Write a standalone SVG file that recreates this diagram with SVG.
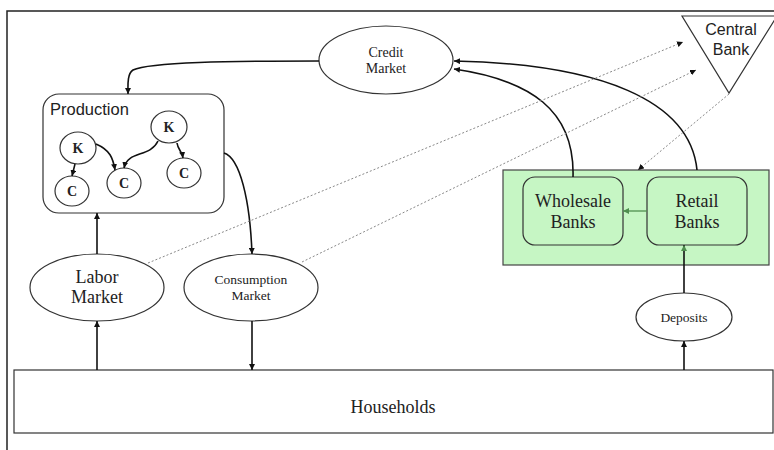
<svg xmlns="http://www.w3.org/2000/svg" width="774" height="450" viewBox="0 0 774 450">
<defs>
<marker id="ah" viewBox="0 0 10 10" refX="10" refY="5" markerWidth="6" markerHeight="6" markerUnits="userSpaceOnUse" orient="auto"><path d="M0,0 L10,5 L0,10 z" fill="#111"/></marker>
<marker id="ahg" viewBox="0 0 10 10" refX="10" refY="5" markerWidth="6" markerHeight="6" markerUnits="userSpaceOnUse" orient="auto"><path d="M0,0 L10,5 L0,10 z" fill="#4f8f4f"/></marker>
<style>
.n{fill:#fff;stroke:#333;stroke-width:1.2}
.s{font-family:"Liberation Serif","Times New Roman",serif;fill:#222;text-anchor:middle}
.a{font-family:"Liberation Sans",Arial,sans-serif;fill:#222}
.c{fill:none;stroke:#111;stroke-width:1.6}
.d{fill:none;stroke:#888;stroke-width:1;stroke-dasharray:2,2}
.kc{font-size:14px;font-weight:bold}
</style>
</defs>
<rect width="774" height="450" fill="#fff"/>
<path d="M7,450 V11 H774" fill="none" stroke="#222" stroke-width="1.5"/>

<g id="production">
<rect x="43" y="94" width="181" height="119" rx="16" class="n"/>
<text x="50" y="115" class="a" font-size="16.5">Production</text>
</g>
<g id="k1"><ellipse cx="78" cy="148" rx="18" ry="16" class="n"/><text x="78" y="153" class="s kc">K</text></g>
<g id="k2"><ellipse cx="169" cy="127" rx="18" ry="16" class="n"/><text x="169" y="132" class="s kc">K</text></g>
<g id="c1"><ellipse cx="72" cy="191" rx="17" ry="15" class="n"/><text x="72" y="196" class="s kc">C</text></g>
<g id="c2"><ellipse cx="124" cy="183" rx="17" ry="15" class="n"/><text x="124" y="188" class="s kc">C</text></g>
<g id="c3"><ellipse cx="184" cy="173" rx="17" ry="15" class="n"/><text x="184" y="178" class="s kc">C</text></g>

<g id="credit-market"><ellipse cx="386" cy="60" rx="67" ry="34" class="n"/>
<text x="386" y="57" class="s" font-size="14">Credit</text><text x="386" y="73" class="s" font-size="14">Market</text></g>

<g id="central-bank"><path d="M682,16 L777,16 L729,93 Z" class="n"/>
<text x="731" y="35" class="a" font-size="16" text-anchor="middle">Central</text>
<text x="731" y="55" class="a" font-size="16" text-anchor="middle">Bank</text></g>

<g id="banks"><rect x="503" y="170" width="266" height="95" fill="#c6f6c4" stroke="#444" stroke-width="1.2"/></g>
<g id="wholesale-banks"><rect x="523" y="177" width="100" height="68" rx="12" fill="#c6f6c4" stroke="#333" stroke-width="1.2"/>
<text x="573" y="207" class="s" font-size="18">Wholesale</text><text x="573" y="228" class="s" font-size="18">Banks</text></g>
<g id="retail-banks"><rect x="647" y="177" width="100" height="68" rx="12" fill="#c6f6c4" stroke="#333" stroke-width="1.2"/>
<text x="697" y="207" class="s" font-size="18">Retail</text><text x="697" y="228" class="s" font-size="18">Banks</text></g>

<g id="labor-market"><ellipse cx="97" cy="287.5" rx="67" ry="33.5" class="n"/>
<text x="97" y="283" class="s" font-size="18">Labor</text><text x="97" y="303" class="s" font-size="18">Market</text></g>
<g id="consumption-market"><ellipse cx="251" cy="287.5" rx="67" ry="33.5" class="n"/>
<text x="251" y="284" class="s" font-size="13.5">Consumption</text><text x="251" y="300" class="s" font-size="13.5">Market</text></g>
<g id="deposits"><ellipse cx="684" cy="317" rx="48" ry="24" class="n"/>
<text x="684" y="322" class="s" font-size="13.5">Deposits</text></g>
<g id="households"><rect x="14" y="370" width="759" height="63" class="n"/>
<text x="393" y="413" class="s" font-size="18">Households</text></g>

<g id="connectors">
<path d="M75,164 L72,176" class="c" stroke-width="1.3" marker-end="url(#ah)"/>
<path d="M96,144 C110,150 113,158 115,170" class="c" stroke-width="1.3" marker-end="url(#ah)"/>
<path d="M158,141 C150,158 128,150 124,168" class="c" stroke-width="1.3" marker-end="url(#ah)"/>
<path d="M177,143 C178,150 182,151 183,158" class="c" stroke-width="1.3" marker-end="url(#ah)"/>
<path d="M319,61 C230,61 150,62 133,70 C127,74 128,85 128,94" class="c" marker-end="url(#ah)"/>
<path d="M224,153 C240,158 250,200 252,254" class="c" marker-end="url(#ah)"/>
<path d="M97,254 V213" class="c" marker-end="url(#ah)"/>
<path d="M97,370 V321" class="c" marker-end="url(#ah)"/>
<path d="M252,321 V370" class="c" marker-end="url(#ah)"/>
<path d="M684,370 V341" class="c" marker-end="url(#ah)"/>
<path d="M684,293 V245" class="c" marker-end="url(#ahg)"/>
<path d="M647,211 H623" fill="none" stroke="#4f8f4f" stroke-width="1.3" marker-end="url(#ahg)"/>
<path d="M573,177 C575,110 530,80 454,69" class="c" marker-end="url(#ah)"/>
<path d="M697,170 C690,100 600,64 454,61" class="c" marker-end="url(#ah)"/>
<path d="M148,263 L683,42" class="d" marker-end="url(#ah)"/>
<path d="M302,262 L696,70" class="d" marker-end="url(#ah)"/>
<path d="M729,94 L638,170" class="d" marker-end="url(#ah)"/>
</g>
</svg>
